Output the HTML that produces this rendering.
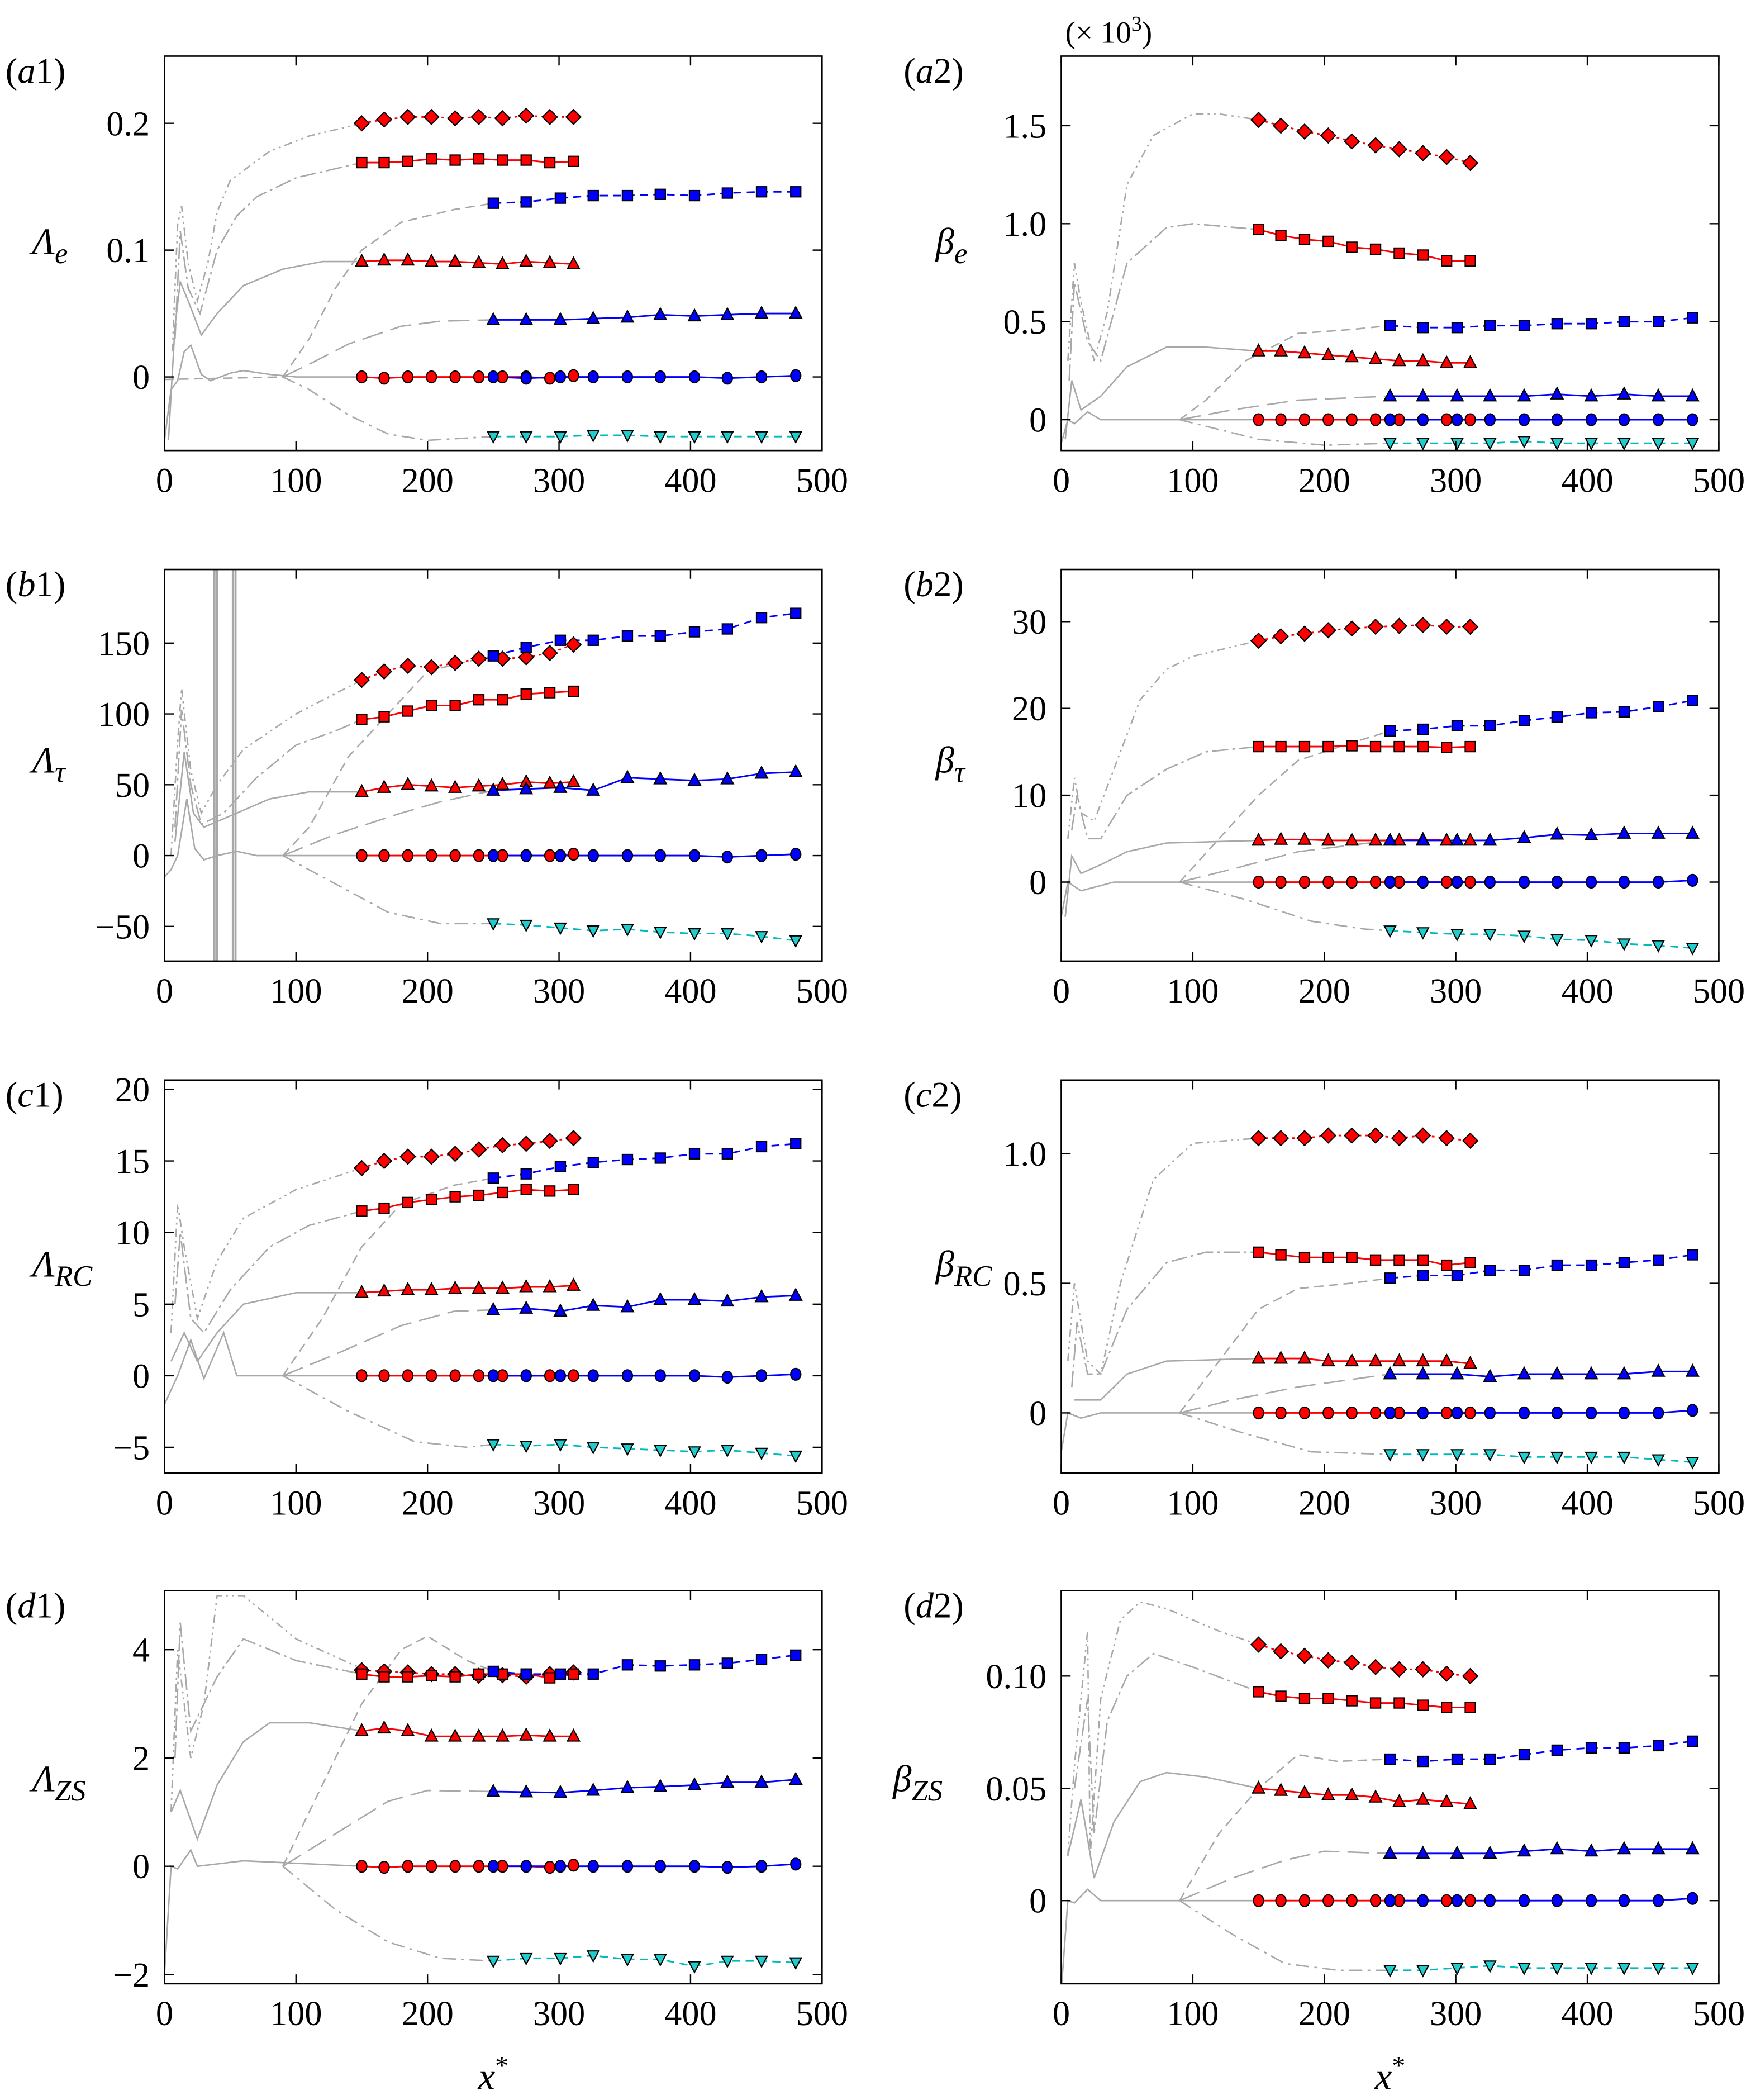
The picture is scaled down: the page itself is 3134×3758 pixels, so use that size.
<!DOCTYPE html>
<html><head><meta charset="utf-8"><style>
html,body{margin:0;padding:0;background:#fff}
svg{display:block}
text{font-family:"Liberation Serif","Times New Roman",serif;fill:#000}
</style></head><body>
<svg id="fig" width="3134" height="3758" viewBox="0 0 1310 1571" xmlns="http://www.w3.org/2000/svg"></svg>
<script>
// ---- shared x positions of markers ----
const redX = [150,167,185,203,221,239,257,275,293,311];
const blueX = [250,275,301,326,352,377,403,428,454,480];
const xTicks = [0,100,200,300,400,500];

// ---- a1 ----
const a1Diamond=[0.200,0.203,0.205,0.205,0.204,0.205,0.204,0.206,0.205,0.205];
const a1RedSq=[0.169,0.169,0.170,0.172,0.171,0.172,0.171,0.171,0.169,0.170];
const a1BlueSq=[0.137,0.138,0.141,0.143,0.143,0.144,0.143,0.145,0.146,0.146];
const a1RedTri=[0.091,0.092,0.092,0.091,0.091,0.090,0.089,0.091,0.090,0.089];
const a1BlueTri=[0.045,0.045,0.045,0.046,0.047,0.049,0.048,0.049,0.050,0.050];
const a1RedCirc=[0,-0.001,0,0,0,0,0,0,-0.001,0.001];
const a1BlueCirc=[0,-0.001,0,0,0,0,0,-0.001,0,0.001];
const a1Cyan=[-0.047,-0.047,-0.047,-0.046,-0.046,-0.047,-0.047,-0.047,-0.047,-0.047];
const a1GDiamond=[[6,0.02],[10,0.12],[13,0.135],[18,0.09],[25,0.06],[33,0.09],[40,0.13],[50,0.155],[80,0.178],[110,0.19],[150,0.2]];
const a1GRedSq=[[8,0.03],[12,0.115],[18,0.07],[27,0.05],[40,0.1],[55,0.127],[70,0.142],[100,0.157],[150,0.169]];
const a1GBlueSq=[[0,-0.002],[90,0],[110,0.03],[130,0.07],[150,0.1],[180,0.122],[220,0.132],[250,0.137]];
const a1GRedTri=[[3,-0.05],[8,0.04],[12,0.075],[18,0.06],[28,0.033],[40,0.05],[60,0.072],[90,0.085],[120,0.091],[150,0.091]];
const a1GBlueTri=[[90,0],[110,0.01],[140,0.026],[180,0.04],[210,0.044],[250,0.045]];
const a1GCirc=[[0,-0.05],[5,-0.01],[10,-0.003],[15,0.02],[20,0.025],[28,0.002],[35,-0.003],[50,0.003],[60,0.005],[80,0.002],[100,0],[150,0]];
const a1GCyan=[[90,0],[110,-0.01],[140,-0.03],[170,-0.045],[200,-0.05],[250,-0.047]];

// ---- a2 ----
const a2Diamond=[1.53,1.50,1.47,1.45,1.42,1.40,1.38,1.36,1.34,1.31];
const a2RedSq=[0.97,0.94,0.92,0.91,0.88,0.87,0.85,0.84,0.81,0.81];
const a2BlueSq=[0.48,0.47,0.47,0.48,0.48,0.49,0.49,0.50,0.50,0.52];
const a2RedTri=[0.35,0.35,0.34,0.33,0.32,0.31,0.30,0.30,0.29,0.29];
const a2BlueTri=[0.12,0.12,0.12,0.12,0.12,0.13,0.12,0.13,0.12,0.12];
const a2RedCirc=[0,0,0,0,0,0,0,0,0,0];
const a2BlueCirc=[0,0,0,0,0,0,0,0,0,0];
const a2Cyan=[-0.12,-0.12,-0.12,-0.12,-0.11,-0.12,-0.12,-0.12,-0.12,-0.12];
const a2GDiamond=[[5,0.3],[10,0.8],[15,0.6],[25,0.3],[35,0.55],[50,1.2],[70,1.45],[100,1.56],[120,1.56],[150,1.53]];
const a2GRedSq=[[6,0.2],[10,0.7],[20,0.4],[30,0.3],[50,0.8],[80,0.98],[100,1.0],[150,0.97]];
const a2GBlueSq=[[90,0],[110,0.1],[140,0.3],[180,0.44],[220,0.46],[250,0.48]];
const a2GRedTri=[[3,-0.1],[8,0.2],[15,0.05],[30,0.12],[50,0.27],[80,0.37],[110,0.37],[150,0.35]];
const a2GBlueTri=[[90,0],[130,0.05],[180,0.1],[250,0.12]];
const a2GCirc=[[0,-0.12],[5,0],[10,-0.02],[20,0.04],[30,0],[100,0],[150,0]];
const a2GCyan=[[90,0],[150,-0.1],[200,-0.13],[250,-0.12]];

// ---- b1 ----
const b1Diamond=[124,130,134,133,136,139,139,140,143,149];
const b1RedSq=[96,98,102,106,106,110,110,114,115,116];
const b1BlueSq=[141,147,152,152,155,155,158,160,168,171];
const b1RedTri=[45,48,50,49,48,49,50,52,51,52];
const b1BlueTri=[46,47,48,46,55,54,53,54,58,59];
const b1RedCirc=[0,0,0,0,0,0,0,0,0,1];
const b1BlueCirc=[0,0,0,0,0,0,0,-1,0,1];
const b1Cyan=[-48,-49,-51,-53,-52,-54,-55,-55,-57,-60];
const b1GDiamond=[[5,0],[10,80],[13,118],[20,60],[28,30],[40,50],[60,75],[100,100],[150,124]];
const b1GRedSq=[[8,20],[13,103],[20,50],[28,22],[45,30],[70,55],[100,78],[130,88],[150,96]];
const b1GBlueSq=[[90,0],[110,20],[140,70],[170,100],[200,130],[230,137],[250,141]];
const b1GRedTri=[[8,10],[15,73],[22,30],[30,20],[50,28],[80,40],[110,45],[150,45]];
const b1GBlueTri=[[90,0],[130,15],[180,30],[210,38],[250,46]];
const b1GCirc=[[0,-15],[5,-10],[10,0],[17,40],[23,5],[30,-3],[40,0],[55,3],[70,0],[150,0]];
const b1GCyan=[[90,0],[130,-20],[170,-40],[210,-48],[250,-48]];
const b1Spikes=[38,40,52,54];

// ---- b2 ----
const b2Diamond=[27.8,28.3,28.6,29.0,29.2,29.4,29.5,29.6,29.4,29.4];
const b2RedSq=[15.6,15.6,15.6,15.6,15.7,15.6,15.6,15.6,15.5,15.6];
const b2BlueSq=[17.4,17.6,18.0,18.0,18.6,19.0,19.5,19.6,20.2,20.9];
const b2RedTri=[4.8,4.9,4.9,4.8,4.8,4.8,4.8,4.9,4.8,4.8];
const b2BlueTri=[4.8,4.8,4.8,4.8,5.1,5.5,5.4,5.6,5.6,5.6];
const b2RedCirc=[0,0,0,0,0,0,0,0,0,0];
const b2BlueCirc=[0,0,0,0,0,0,0,0,0,0.2];
const b2Cyan=[-5.6,-5.8,-6.0,-6.0,-6.2,-6.6,-6.7,-7.1,-7.3,-7.6];
const b2GDiamond=[[5,5],[10,12],[15,8],[25,7],[40,13],[60,21],[80,24.5],[100,26],[150,27.8]];
const b2GRedSq=[[8,6],[12,10],[20,5],[30,5],[50,10],[80,13],[110,15],[150,15.6]];
const b2GBlueSq=[[90,0],[120,5],[150,10],[180,14],[220,16],[250,17.4]];
const b2GRedTri=[[3,-4],[8,3],[15,1],[30,2],[50,3.5],[80,4.5],[150,4.8]];
const b2GBlueTri=[[90,0],[130,1.5],[180,3.5],[250,4.8]];
const b2GCirc=[[0,-4],[5,0],[15,-1],[40,0],[150,0]];
const b2GCyan=[[90,0],[140,-2],[190,-4.5],[230,-5.4],[250,-5.6]];

// ---- c1 ----
const c1Diamond=[14.5,15.0,15.3,15.3,15.5,15.8,16.1,16.2,16.4,16.6];
const c1RedSq=[11.5,11.7,12.1,12.3,12.5,12.6,12.8,13.0,12.9,13.0];
const c1BlueSq=[13.8,14.1,14.6,14.9,15.1,15.2,15.5,15.5,16.0,16.2];
const c1RedTri=[5.8,5.9,6.0,6.0,6.1,6.1,6.1,6.2,6.2,6.3];
const c1BlueTri=[4.6,4.7,4.5,4.9,4.8,5.3,5.3,5.2,5.5,5.6];
const c1RedCirc=[0,0,0,0,0,0,0,0,0,0];
const c1BlueCirc=[0,0,0,0,0,0,0,-0.1,0,0.1];
const c1Cyan=[-4.8,-4.9,-4.8,-5.0,-5.1,-5.2,-5.3,-5.2,-5.4,-5.6];
const c1GDiamond=[[5,3],[10,12],[15,9],[25,4],[40,8],[60,11],[100,13],[150,14.5]];
const c1GRedSq=[[8,5],[12,10],[20,4],[30,3],[50,6],[80,9],[110,10.5],[150,11.5]];
const c1GBlueSq=[[90,0],[120,4],[150,9],[180,12],[220,13.3],[250,13.8]];
const c1GRedTri=[[5,1],[15,3],[25,1],[40,3],[60,5],[100,5.8],[150,5.8]];
const c1GBlueTri=[[90,0],[130,1.5],[180,3.5],[220,4.5],[250,4.6]];
const c1GCirc=[[0,-2],[10,0],[20,2.5],[30,-0.2],[45,3],[55,0],[150,0]];
const c1GCyan=[[90,0],[140,-2.5],[190,-4.6],[230,-5],[250,-4.8]];

// ---- c2 ----
const c2Diamond=[1.06,1.06,1.06,1.07,1.07,1.07,1.06,1.07,1.06,1.05];
const c2RedSq=[0.62,0.61,0.60,0.60,0.60,0.59,0.59,0.59,0.57,0.58];
const c2BlueSq=[0.52,0.53,0.53,0.55,0.55,0.57,0.57,0.58,0.59,0.61];
const c2RedTri=[0.21,0.21,0.21,0.20,0.20,0.20,0.20,0.20,0.20,0.19];
const c2BlueTri=[0.15,0.15,0.15,0.14,0.15,0.15,0.15,0.15,0.16,0.16];
const c2RedCirc=[0,0,0,0,0,0,0,0,0,0];
const c2BlueCirc=[0,0,0,0,0,0,0,0,0,0.01];
const c2Cyan=[-0.16,-0.16,-0.16,-0.16,-0.17,-0.17,-0.17,-0.17,-0.18,-0.19];
const c2GDiamond=[[5,0.2],[10,0.5],[20,0.2],[30,0.15],[45,0.5],[70,0.9],[100,1.04],[150,1.06]];
const c2GRedSq=[[8,0.1],[12,0.35],[20,0.15],[30,0.15],[50,0.4],[80,0.58],[110,0.62],[150,0.62]];
const c2GBlueSq=[[90,0],[120,0.2],[150,0.4],[180,0.48],[220,0.5],[250,0.52]];
const c2GRedTri=[[10,0.05],[30,0.05],[50,0.15],[80,0.2],[150,0.21]];
const c2GBlueTri=[[90,0],[130,0.05],[180,0.1],[250,0.15]];
const c2GCirc=[[0,-0.15],[5,0],[15,-0.02],[30,0],[150,0]];
const c2GCyan=[[90,0],[140,-0.08],[190,-0.15],[250,-0.16]];

// ---- d1 ----
const d1Diamond=[3.62,3.60,3.58,3.55,3.55,3.52,3.53,3.50,3.55,3.58];
const d1RedSq=[3.55,3.50,3.50,3.52,3.50,3.55,3.55,3.55,3.48,3.55];
const d1BlueSq=[3.60,3.55,3.55,3.55,3.72,3.70,3.72,3.75,3.82,3.90];
const d1RedTri=[2.50,2.55,2.50,2.40,2.40,2.40,2.40,2.42,2.40,2.40];
const d1BlueTri=[1.38,1.37,1.36,1.40,1.45,1.47,1.50,1.55,1.55,1.60];
const d1RedCirc=[0,-0.02,0,0,0,0,0,0,-0.02,0.02];
const d1BlueCirc=[0,0,0,0,0,0,0,-0.02,0,0.04];
const d1Cyan=[-1.75,-1.70,-1.70,-1.65,-1.72,-1.72,-1.85,-1.75,-1.75,-1.78];
const d1GDiamond=[[5,1],[10,4],[20,2],[30,3],[40,5],[60,5],[100,4.2],[150,3.65]];
const d1GRedSq=[[8,2],[12,4.5],[20,2.5],[30,3],[40,3.5],[60,4.2],[100,3.8],[150,3.55]];
const d1GBlueSq=[[90,0],[120,1.5],[150,3],[180,4],[200,4.25],[230,3.8],[250,3.6]];
const d1GRedTri=[[5,1],[12,1.4],[25,0.5],[40,1.5],[60,2.3],[80,2.65],[110,2.65],[150,2.5]];
const d1GBlueTri=[[90,0],[130,0.6],[170,1.2],[200,1.4],[250,1.38]];
const d1GCirc=[[0,-2],[5,0],[10,-0.05],[20,0.3],[25,0],[60,0.1],[150,0]];
const d1GCyan=[[90,0],[130,-0.8],[170,-1.4],[210,-1.7],[250,-1.75]];

// ---- d2 ----
const d2Diamond=[0.114,0.111,0.109,0.107,0.106,0.104,0.103,0.103,0.101,0.100];
const d2RedSq=[0.093,0.091,0.090,0.090,0.089,0.088,0.088,0.087,0.086,0.086];
const d2BlueSq=[0.063,0.062,0.063,0.063,0.065,0.067,0.068,0.068,0.069,0.071];
const d2RedTri=[0.050,0.049,0.048,0.047,0.047,0.046,0.044,0.045,0.044,0.043];
const d2BlueTri=[0.021,0.021,0.021,0.021,0.022,0.023,0.022,0.023,0.023,0.023];
const d2RedCirc=[0,0,0,0,0,0,0,0,0,0];
const d2BlueCirc=[0,0,0,0,0,0,0,0,0,0.001];
const d2Cyan=[-0.031,-0.031,-0.030,-0.029,-0.030,-0.030,-0.030,-0.030,-0.030,-0.030];
const d2GDiamond=[[5,0.02],[10,0.06],[20,0.12],[22,0.02],[30,0.09],[45,0.125],[60,0.133],[80,0.13],[120,0.12],[150,0.114]];
const d2GRedSq=[[10,0.05],[20,0.09],[25,0.03],[35,0.08],[50,0.1],[70,0.11],[100,0.104],[150,0.093]];
const d2GBlueSq=[[90,0],[120,0.03],[150,0.05],[180,0.065],[210,0.062],[250,0.063]];
const d2GRedTri=[[5,0.02],[15,0.045],[25,0.01],[40,0.035],[60,0.053],[80,0.057],[110,0.055],[150,0.05]];
const d2GBlueTri=[[90,0],[130,0.01],[170,0.018],[200,0.022],[250,0.021]];
const d2GCirc=[[0,-0.04],[5,0],[10,-0.001],[20,0.005],[30,0],[150,0]];
const d2GCyan=[[90,0],[130,-0.015],[170,-0.028],[210,-0.031],[250,-0.031]];

// ---- y tick labels ----
const a1YTicks=[0,0.1,0.2], a1YLabels=["0","0.1","0.2"];
const a2YTicks=[0,0.5,1.0,1.5], a2YLabels=["0","0.5","1.0","1.5"];
const b1YTicks=[-50,0,50,100,150], b1YLabels=["\u221250","0","50","100","150"];
const b2YTicks=[0,10,20,30], b2YLabels=["0","10","20","30"];
const c1YTicks=[-5,0,5,10,15,20], c1YLabels=["\u22125","0","5","10","15","20"];
const c2YTicks=[0,0.5,1.0], c2YLabels=["0","0.5","1.0"];
const d1YTicks=[-2,0,2,4], d1YLabels=["\u22122","0","2","4"];
const d2YTicks=[0,0.05,0.10], d2YLabels=["0","0.05","0.10"];

const NS="http://www.w3.org/2000/svg";
const svg=document.getElementById('fig');
function mk(tag,attrs,parent){const e=document.createElementNS(NS,tag);for(const k in attrs)e.setAttribute(k,attrs[k]);(parent||svg).appendChild(e);return e;}

const COLL=[123,615], COLR=[794,1286];
const ROWS=[[42,337],[426,719],[808,1102],[1190,1484]];

function panel(id,col,row,ymin,ymax,yt,yl,tag,ylab,sub,ser,extra,labX){
  const [L,R]=col,[T,B]=ROWS[row];
  const g=mk('g',{});
  
  
  const X=v=>L+(v/500)*(R-L);
  const Y=v=>B-(v-ymin)/(ymax-ymin)*(B-T);
  const clipId='clip-'+id;
  const cp=mk('clipPath',{id:clipId},g);mk('rect',{x:L,y:T,width:R-L,height:B-T},cp);
  const pg=mk('g',{'clip-path':'url(#'+clipId+')'},g);
  const grey='#a8a8a8';
  function gline(pts,dash){const p=mk('polyline',{points:pts.map(q=>X(q[0])+','+Y(q[1])).join(' '),fill:'none',stroke:grey,'stroke-width':1.1,'stroke-dasharray':dash||'none'},pg);
    }
  gline(ser.gD,'6,3,1.5,3,1.5,3');
  gline(ser.gRS,'12,3,2,3');
  gline(ser.gBS,'7,4');
  gline(ser.gRT,'');
  gline(ser.gBT,'16,6');
  gline(ser.gC,'');
  gline(ser.gCy,'10,4,2,4');
  if(extra){extra.forEach(sx=>{const l=mk('line',{x1:X(sx),x2:X(sx),y1:T,y2:B,stroke:grey,'stroke-width':1.6},pg);
    });}
  function cline(xs,ys,color,dash,nm){const p=mk('polyline',{points:xs.map((x,i)=>X(x)+','+Y(ys[i])).join(' '),fill:'none',stroke:color,'stroke-width':1.2,'stroke-dasharray':dash||'none'},pg);
    }
  cline(redX,ser.D,'#f00','2,3','red-diamond');
  cline(redX,ser.RS,'#f00','','red-square');
  cline(blueX,ser.BS,'#00f','6,4','blue-square');
  cline(redX,ser.RT,'#f00','','red-triangle');
  cline(blueX,ser.BT,'#00f','','blue-triangle');
  cline(redX,ser.RC,'#f00','','red-circle');
  cline(blueX,ser.BC,'#00f','','blue-circle');
  cline(blueX,ser.Cy,'#0bb','6,4','cyan-triangle');
  function marks(xs,ys,shape,fill,nm){xs.forEach((x,i)=>{const cx=X(x),cy=Y(ys[i]);let e;
    const st={fill:fill,stroke:'#000','stroke-width':0.9};
    if(shape==='d'){e=mk('polygon',Object.assign({points:`${cx},${cy-5.5} ${cx+5.5},${cy} ${cx},${cy+5.5} ${cx-5.5},${cy}`},st),g);}
    else if(shape==='s'){e=mk('rect',Object.assign({x:cx-3.8,y:cy-3.8,width:7.6,height:7.6},st),g);}
    else if(shape==='t'){e=mk('polygon',Object.assign({points:`${cx},${cy-5} ${cx+4.5},${cy+3.5} ${cx-4.5},${cy+3.5}`},st),g);}
    else if(shape==='v'){e=mk('polygon',Object.assign({points:`${cx},${cy+4.5} ${cx+4.2},${cy-3.5} ${cx-4.2},${cy-3.5}`},st),g);}
    else {e=mk('ellipse',Object.assign({cx:cx,cy:cy,rx:3.8,ry:4.4,'stroke-width':0.4},st),g);}
    });}
  marks(redX,ser.D,'d','#f00','red-diamond');
  marks(redX,ser.RS,'s','#f00','red-square');
  marks(blueX,ser.BS,'s','#00f','blue-square');
  marks(redX,ser.RT,'t','#f00','red-triangle');
  marks(blueX,ser.BT,'t','#00f','blue-triangle');
  marks(redX,ser.RC,'c','#f00','red-circle');
  marks(blueX,ser.BC,'c','#00f','blue-circle');
  marks(blueX,ser.Cy,'v','#2cc','cyan-triangle');
  const fr=mk('rect',{x:L,y:T,width:R-L,height:B-T,fill:'none',stroke:'#000','stroke-width':1.1},g);
  
  xTicks.forEach(v=>{const x=X(v);
    mk('line',{x1:x,x2:x,y1:B,y2:B-7,stroke:'#000','stroke-width':1},g);
    mk('line',{x1:x,x2:x,y1:T,y2:T+7,stroke:'#000','stroke-width':1},g);
    const t=mk('text',{x:x,y:B+31,'font-size':26,'text-anchor':'middle'},g);t.textContent=String(v);
    });
  yt.forEach((v,i)=>{const y=Y(v);
    mk('line',{x1:L,x2:L+7,y1:y,y2:y,stroke:'#000','stroke-width':1},g);
    mk('line',{x1:R,x2:R-7,y1:y,y2:y,stroke:'#000','stroke-width':1},g);
    const t=mk('text',{x:L-11,y:y+9,'font-size':26,'text-anchor':'end'},g);t.textContent=yl[i];
    });
  const tg=mk('text',{x:col===COLL?4:676,y:T+20,'font-size':27},g);
  tg.innerHTML='(<tspan font-style="italic">'+tag[0]+'</tspan>'+tag[1]+')';
  
  const yy=(row===0?190:row===1?578:row===2?955:1340);
  const ylT=mk('text',{x:labX!==undefined?labX:(col===COLL?24:700),y:yy,'font-size':28,'font-style':'italic'},g);
  ylT.innerHTML=ylab+'<tspan font-size="22" dy="7">'+sub+'</tspan>';
  
}
function S(p){return {D:p[0],RS:p[1],BS:p[2],RT:p[3],BT:p[4],RC:p[5],BC:p[6],Cy:p[7],gD:p[8],gRS:p[9],gBS:p[10],gRT:p[11],gBT:p[12],gC:p[13],gCy:p[14]};}
panel('a1',COLL,0,-0.058,0.253,a1YTicks,a1YLabels,'a1','\u039B','e',S([a1Diamond,a1RedSq,a1BlueSq,a1RedTri,a1BlueTri,a1RedCirc,a1BlueCirc,a1Cyan,a1GDiamond,a1GRedSq,a1GBlueSq,a1GRedTri,a1GBlueTri,a1GCirc,a1GCyan]));
panel('a2',COLR,0,-0.157,1.855,a2YTicks,a2YLabels,'a2','\u03B2','e',S([a2Diamond,a2RedSq,a2BlueSq,a2RedTri,a2BlueTri,a2RedCirc,a2BlueCirc,a2Cyan,a2GDiamond,a2GRedSq,a2GBlueSq,a2GRedTri,a2GBlueTri,a2GCirc,a2GCyan]));
panel('b1',COLL,1,-74.5,202,b1YTicks,b1YLabels,'b1','\u039B','\u03C4',S([b1Diamond,b1RedSq,b1BlueSq,b1RedTri,b1BlueTri,b1RedCirc,b1BlueCirc,b1Cyan,b1GDiamond,b1GRedSq,b1GBlueSq,b1GRedTri,b1GBlueTri,b1GCirc,b1GCyan]),b1Spikes);
panel('b2',COLR,1,-9.1,36,b2YTicks,b2YLabels,'b2','\u03B2','\u03C4',S([b2Diamond,b2RedSq,b2BlueSq,b2RedTri,b2BlueTri,b2RedCirc,b2BlueCirc,b2Cyan,b2GDiamond,b2GRedSq,b2GBlueSq,b2GRedTri,b2GBlueTri,b2GCirc,b2GCyan]));
panel('c1',COLL,2,-6.8,20.65,c1YTicks,c1YLabels,'c1','\u039B','RC',S([c1Diamond,c1RedSq,c1BlueSq,c1RedTri,c1BlueTri,c1RedCirc,c1BlueCirc,c1Cyan,c1GDiamond,c1GRedSq,c1GBlueSq,c1GRedTri,c1GBlueTri,c1GCirc,c1GCyan]));
panel('c2',COLR,2,-0.232,1.284,c2YTicks,c2YLabels,'c2','\u03B2','RC',S([c2Diamond,c2RedSq,c2BlueSq,c2RedTri,c2BlueTri,c2RedCirc,c2BlueCirc,c2Cyan,c2GDiamond,c2GRedSq,c2GBlueSq,c2GRedTri,c2GBlueTri,c2GCirc,c2GCyan]));
panel('d1',COLL,3,-2.17,5.09,d1YTicks,d1YLabels,'d1','\u039B','ZS',S([d1Diamond,d1RedSq,d1BlueSq,d1RedTri,d1BlueTri,d1RedCirc,d1BlueCirc,d1Cyan,d1GDiamond,d1GRedSq,d1GBlueSq,d1GRedTri,d1GBlueTri,d1GCirc,d1GCyan]));
panel('d2',COLR,3,-0.037,0.138,d2YTicks,d2YLabels,'d2','\u03B2','ZS',S([d2Diamond,d2RedSq,d2BlueSq,d2RedTri,d2BlueTri,d2RedCirc,d2BlueCirc,d2Cyan,d2GDiamond,d2GRedSq,d2GBlueSq,d2GRedTri,d2GBlueTri,d2GCirc,d2GCyan]),undefined,668);

const sc=mk('text',{x:797,y:32,'font-size':23});sc.innerHTML='(\u00D7 10<tspan font-size="16" dy="-9">3</tspan><tspan dy="9">)</tspan>';

[[369,1563],[1040,1563]].forEach(p=>{const t=mk('text',{x:p[0],y:p[1],'font-size':29,'font-style':'italic','text-anchor':'middle'});
  t.innerHTML='x<tspan font-size="20" dy="-11" font-style="normal">*</tspan>';
  });
</script>
</body></html>
